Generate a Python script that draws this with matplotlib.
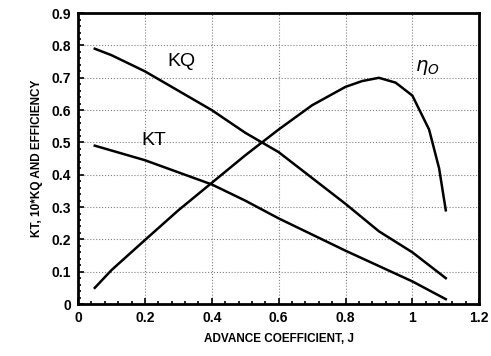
import matplotlib
matplotlib.use("Agg")
import matplotlib.pyplot as plt
from matplotlib.ticker import MultipleLocator

plt.rcParams['font.family'] = ['Liberation Sans', 'DejaVu Sans']

J_kq = [0.05, 0.1, 0.2, 0.3, 0.4, 0.5, 0.6, 0.7, 0.8, 0.9, 1.0, 1.1]
kq10 = [0.79, 0.77, 0.72, 0.66, 0.60, 0.53, 0.47, 0.39, 0.31, 0.225, 0.16, 0.08]

J_kt = [0.05, 0.2, 0.4, 0.5, 0.6, 0.8, 1.0, 1.1]
kt = [0.49, 0.445, 0.37, 0.32, 0.265, 0.165, 0.07, 0.015]

J_eta = [0.05, 0.1, 0.2, 0.3, 0.4, 0.5, 0.6, 0.7, 0.8, 0.85, 0.9, 0.95, 1.0, 1.05, 1.08, 1.1]
eta = [0.05, 0.105, 0.198, 0.29, 0.375, 0.46, 0.54, 0.615, 0.672, 0.69, 0.70, 0.685, 0.645, 0.54, 0.42, 0.29]

xticks = [0, 0.2, 0.4, 0.6, 0.8, 1.0, 1.2]
xticklabels = ['0', '0.2', '0.4', '0.6', '0.8', '1', '1.2']
yticks = [0, 0.1, 0.2, 0.3, 0.4, 0.5, 0.6, 0.7, 0.8, 0.9]
yticklabels = ['0', '0.1', '0.2', '0.3', '0.4', '0.5', '0.6', '0.7', '0.8', '0.9']

fig = plt.figure(figsize=(4.91, 3.56), dpi=100)
ax = fig.add_axes([0.159, 0.146, 0.817, 0.817])

lw = 1.8
ax.plot(J_kq, kq10, color='black', lw=lw)
ax.plot(J_kt, kt, color='black', lw=lw)
ax.plot(J_eta, eta, color='black', lw=lw)

narrow = ['Liberation Sans Narrow', 'Liberation Sans', 'DejaVu Sans']
ax.text(0.31, 0.752, 'KQ', fontsize=14, ha='center', va='center', family=narrow)
ax.text(0.228, 0.507, 'KT', fontsize=14, ha='center', va='center', family=narrow)
ax.text(1.045, 0.733, r'$\eta_O$', fontsize=14, ha='center', va='center')

ax.set_xlim(0, 1.2)
ax.set_ylim(0, 0.9)
ax.set_xticks(xticks)
ax.set_xticklabels(xticklabels, fontweight='bold', fontsize=10)
ax.set_yticks(yticks)
ax.set_yticklabels(yticklabels, fontweight='bold', fontsize=10)
ax.xaxis.set_minor_locator(MultipleLocator(0.04))
ax.yaxis.set_minor_locator(MultipleLocator(0.02))
ax.tick_params(which='both', direction='in', width=1.2)
ax.tick_params(which='major', length=4, pad=5)
ax.tick_params(which='minor', length=2.5)

ax.grid(True, which='major', linestyle=':', color='gray', lw=0.8)
for s in ax.spines.values():
    s.set_linewidth(2)

ax.set_xlabel('ADVANCE COEFFICIENT, J', fontweight='bold', fontsize=8.5, labelpad=6)
ax.set_ylabel('KT, 10*KQ AND EFFICIENCY', fontweight='bold', fontsize=8.5, labelpad=6)

fig.savefig('out.png', dpi=100)
